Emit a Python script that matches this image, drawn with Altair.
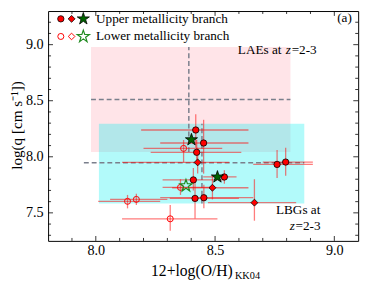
import altair as alt
import pandas as pd

# ---------------- data ----------------
x_domain = [7.8, 9.1]
y_domain = [7.25, 9.3]
x_major = [8.0, 8.5, 9.0]
x_minor = [7.9, 8.1, 8.2, 8.3, 8.4, 8.6, 8.7, 8.8, 8.9]
y_major = [7.5, 8.0, 8.5, 9.0]
y_minor = [7.3, 7.4, 7.6, 7.7, 7.8, 7.9, 8.1, 8.2, 8.3, 8.4, 8.6, 8.7, 8.8, 8.9, 9.1, 9.2]

# upper-branch filled circles
uc_x = [8.419, 8.452, 8.423, 8.409, 8.539, 8.416, 8.453, 8.760, 8.796]
uc_y = [8.239, 8.123, 8.040, 7.794, 7.820, 7.629, 7.635, 7.932, 7.953]
uc_xlo = [8.19, 8.27, 8.23, 8.28, 8.45, 8.31, 8.27, 8.66, 8.70]
uc_xhi = [8.64, 8.64, 8.61, 8.54, 8.59, 8.60, 8.66, 8.91, 8.91]
uc_ylo = [8.08, 7.85, 7.93, 7.70, 7.76, 7.45, 7.54, 7.81, 7.83]
uc_yhi = [8.38, 8.33, 8.15, 7.90, 7.88, 7.80, 7.75, 8.06, 8.08]

# upper-branch filled diamonds
ud_x = [8.427, 8.489, 8.665]
ud_y = [7.950, 7.724, 7.591]
ud_xlo = [8.11, 8.32, 8.47]
ud_xhi = [8.56, 8.64, 8.84]
ud_ylo = [7.85, 7.62, 7.43]
ud_yhi = [8.08, 7.84, 7.80]

# lower-branch open circles
lc_x = [8.368, 8.355, 8.133, 8.170, 8.312]
lc_y = [8.075, 7.727, 7.603, 7.620, 7.447]
lc_xlo = [8.20, 8.28, 8.01, 8.06, 8.11]
lc_xhi = [8.53, 8.50, 8.27, 8.30, 8.51]
lc_ylo = [7.95, 7.66, 7.54, 7.57, 7.34]
lc_yhi = [8.15, 7.80, 7.66, 7.67, 7.57]

# stacks (stars)
us_x = [8.401, 8.510]
us_y = [8.152, 7.820]
ls_x = [8.378]
ls_y = [7.742]

# LAE / LBG regions: [xmin, xmax, ymin, ymax], medians [x, y]
lae_box = [7.98, 8.816, 8.042, 8.979]
lae_med = [8.39, 8.511]
lbg_box = [8.013, 8.874, 7.583, 8.294]
lbg_med = [8.445, 7.947]
lbg_hline_x = [7.95, 8.874]

# ---------------- layout ----------------
W, H = 317, 235
FONT = "Liberation Serif"
xs = alt.Scale(domain=x_domain, nice=False, zero=False)
ys = alt.Scale(domain=y_domain, nice=False, zero=False)
STAR = "M0,-1L0.2245,-0.309L0.951,-0.309L0.363,0.118L0.588,0.809L0,0.382L-0.588,0.809L-0.363,0.118L-0.951,-0.309L-0.2245,-0.309Z"

XAX = alt.Axis(values=x_major, format=".1f", title=None, labelPadding=3)
YAX = alt.Axis(values=y_major, format=".1f", title=None, labelPadding=5)

def X(f, **kw):
    return alt.X(f, type="quantitative", scale=xs, axis=XAX, **kw)

def Y(f, **kw):
    return alt.Y(f, type="quantitative", scale=ys, axis=YAX, **kw)

boxes = pd.DataFrame({
    "x1": [lae_box[0], lbg_box[0]], "x2": [lae_box[1], lbg_box[1]],
    "y1": [lae_box[2], lbg_box[2]], "y2": [lae_box[3], lbg_box[3]],
    "c": ["lae", "lbg"],
})
pink = alt.Chart(boxes[boxes.c == "lae"]).mark_rect(fill="#ffe4e8", opacity=1).encode(
    x=X("x1"), x2="x2", y=Y("y1"), y2="y2")
cyan = alt.Chart(boxes[boxes.c == "lbg"]).mark_rect(fill="#00f0f0", opacity=0.3).encode(
    x=X("x1"), x2="x2", y=Y("y1"), y2="y2")

hl = pd.DataFrame({"x1": [lae_box[0], lbg_hline_x[0]], "x2": [lae_box[1], lbg_hline_x[1]],
                   "y": [lae_med[1], lbg_med[1]]})
vl = pd.DataFrame({"x": [lae_med[0], lbg_med[0]], "y1": [lae_box[2], lbg_box[2]],
                   "y2": [lae_box[3], lbg_box[3]]})
dash_kw = dict(color="#7a7f8c", strokeWidth=1.5, strokeDash=[5, 3])
hdash = alt.Chart(hl).mark_rule(**dash_kw).encode(x=X("x1"), x2="x2", y=Y("y"))
vdash = alt.Chart(vl).mark_rule(**dash_kw).encode(x=X("x"), y=Y("y1"), y2="y2")

def frame(xv, yv, xlo, xhi, ylo, yhi):
    return pd.DataFrame({"x": xv, "y": yv, "xlo": xlo, "xhi": xhi, "ylo": ylo, "yhi": yhi})

uc = frame(uc_x, uc_y, uc_xlo, uc_xhi, uc_ylo, uc_yhi)
ud = frame(ud_x, ud_y, ud_xlo, ud_xhi, ud_ylo, ud_yhi)
lc = frame(lc_x, lc_y, lc_xlo, lc_xhi, lc_ylo, lc_yhi)
allerr = pd.concat([uc, ud, lc], ignore_index=True)

err_kw = dict(color="#ff1010", opacity=0.55, strokeWidth=1.3)
xerr = alt.Chart(allerr).mark_rule(**err_kw).encode(x=X("xlo"), x2="xhi", y=Y("y"))
yerr = alt.Chart(allerr).mark_rule(**err_kw).encode(x=X("x"), y=Y("ylo"), y2="yhi")

lc_pts = alt.Chart(lc).mark_point(shape="circle", filled=False, stroke="#ff0000",
                                  strokeWidth=1, size=38, opacity=1).encode(x=X("x"), y=Y("y"))
uc_pts = alt.Chart(uc).mark_point(shape="circle", filled=True, fill="#ff0000", stroke="black",
                                  strokeWidth=0.8, size=42, opacity=1).encode(x=X("x"), y=Y("y"))
ud_pts = alt.Chart(ud).mark_point(shape="diamond", filled=True, fill="#ff0000", stroke="black",
                                  strokeWidth=0.8, size=50, opacity=1).encode(x=X("x"), y=Y("y"))
us_pts = alt.Chart(pd.DataFrame({"x": us_x, "y": us_y})).mark_point(
    shape=STAR, filled=True, fill="#006400", stroke="black", strokeWidth=0.8, size=170, opacity=1
).encode(x=X("x"), y=Y("y"))
ls_pts = alt.Chart(pd.DataFrame({"x": ls_x, "y": ls_y})).mark_point(
    shape=STAR, filled=False, stroke="#1f8a1f", strokeWidth=1.2, size=170, opacity=1
).encode(x=X("x"), y=Y("y"))

# ---------------- ticks (inward, all four sides) ----------------
tick_layers = []
for vals, ln in ((x_major, 5), (x_minor, 3)):
    d = pd.DataFrame({"v": vals})
    tick_layers.append(alt.Chart(d).mark_rule(color="black", strokeWidth=0.8).encode(
        x=X("v"), y=alt.value(H), y2=alt.value(H - ln)))
    tick_layers.append(alt.Chart(d).mark_rule(color="black", strokeWidth=0.8).encode(
        x=X("v"), y=alt.value(0), y2=alt.value(ln)))
for vals, ln in ((y_major, 5), (y_minor, 3)):
    d = pd.DataFrame({"v": vals})
    tick_layers.append(alt.Chart(d).mark_rule(color="black", strokeWidth=0.8).encode(
        y=Y("v"), x=alt.value(0), x2=alt.value(ln)))
    tick_layers.append(alt.Chart(d).mark_rule(color="black", strokeWidth=0.8).encode(
        y=Y("v"), x=alt.value(W), x2=alt.value(W - ln)))

one = pd.DataFrame({"a": [0]})

def txt(s, x, y, size=13.5, **kw):
    return alt.Chart(one).mark_text(text=s, font=FONT, fontSize=size, color="black", **kw).encode(
        x=alt.value(x), y=alt.value(y))

def sym(x, y, **kw):
    return alt.Chart(one).mark_point(opacity=1, **kw).encode(x=alt.value(x), y=alt.value(y))

texts = [
    txt("12+log(O/H)", 147, 271, size=16, align="center", baseline="alphabetic"),
    txt("KK04", 191, 274, size=10.5, align="left", baseline="alphabetic"),
    txt("log(q [cm s\u207b\u00b9])", -32, 117, size=15.5, align="center", baseline="middle", angle=270),
    txt("(a)", 303, 7, size=13.5, align="center", baseline="middle"),
    txt("LAEs at", 194, 40, align="left", baseline="middle"),
    txt("z", 243, 40, align="left", baseline="middle", fontStyle="italic"),
    txt("=2-3", 249, 40, align="left", baseline="middle"),
    txt("LBGs at", 233, 204, align="left", baseline="middle"),
    txt("z", 247, 220, align="left", baseline="middle", fontStyle="italic"),
    txt("=2-3", 253, 220, align="left", baseline="middle"),
    txt("Upper metallicity branch", 49, 8, align="left", baseline="middle"),
    txt("Lower metallicity branch", 49, 26, align="left", baseline="middle"),
]
legend = [
    sym(13, 8, shape="circle", filled=True, fill="#ff0000", stroke="black", strokeWidth=0.8, size=42),
    sym(24, 8, shape="diamond", filled=True, fill="#ff0000", stroke="black", strokeWidth=0.8, size=50),
    sym(36, 8, shape=STAR, filled=True, fill="#006400", stroke="black", strokeWidth=0.8, size=170),
    sym(13, 26, shape="circle", filled=False, stroke="#ff0000", strokeWidth=1, size=38),
    sym(24, 26, shape="diamond", filled=False, stroke="#ff0000", strokeWidth=1, size=46),
    sym(36, 26, shape=STAR, filled=False, stroke="#1f8a1f", strokeWidth=1.2, size=170),
]

chart = alt.layer(
    pink, cyan, hdash, vdash, xerr, yerr, lc_pts, uc_pts, ud_pts, us_pts, ls_pts,
    *tick_layers, *texts, *legend
).properties(
    width=W, height=H,
    autosize=alt.AutoSizeParams(type="none"),
    padding={"left": 41, "top": 0, "right": 8, "bottom": 42},
).configure_view(
    stroke="black", strokeWidth=1
).configure_axis(
    ticks=False, domain=False, grid=False, labelFont=FONT, labelFontSize=14.5, labelColor="black"
)

chart.save("out.html", embed_options={"renderer": "svg", "actions": False})
